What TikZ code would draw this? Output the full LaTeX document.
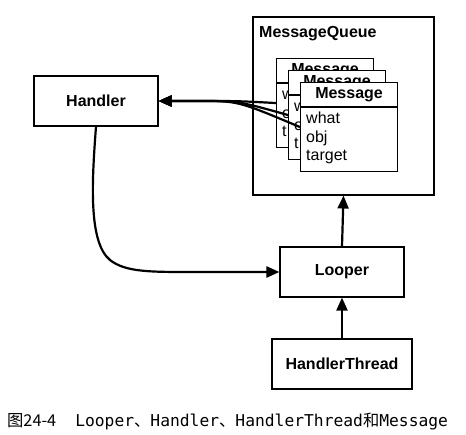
\documentclass[tikz,border=0pt]{standalone}
\usepackage{fontspec}
\setmainfont{Liberation Sans}
\newfontfamily\cjkfont{Noto Sans CJK SC}
\newfontfamily\monofont{DejaVu Sans Mono}
\usetikzlibrary{arrows.meta}
\begin{document}
\begin{tikzpicture}[x=1pt,y=-1pt,
  box/.style={draw,line width=1.1pt,fill=white,inner sep=0pt},
  titletext/.style={font=\fontsize{16}{19}\selectfont\bfseries},
  fieldtext/.style={font=\fontsize{16}{19}\selectfont,anchor=base west,inner sep=0pt},
  conn/.style={line width=2.2pt,-{Triangle[length=13pt,width=11pt]}},
]
\useasboundingbox[fill=white] (0,0) rectangle (466,435);

% MessageQueue container
\node[box,minimum width=181pt,minimum height=178pt] (mq) at (343.5,106) {};
\node[titletext,anchor=west,inner sep=0pt] (mqt) at (259,34) {MessageQueue};

% stacked Message boxes (the back ones show only their visible letters)
\foreach \i/\x/\y/\fa/\fb/\fc in {1/276/58/w/o/t,2/288/70/w/o/t,3/300/82/what/obj/target}{
  \node[box,minimum width=97pt,minimum height=89pt,anchor=north west] (m\i) at (\x,\y) {};
  \draw[line width=1.1pt] ([yshift=-25pt]m\i.north west) -- ([yshift=-25pt]m\i.north east);
  \node[titletext,inner sep=0pt] (m\i t) at ([yshift=-13pt]m\i.north) {Message};
  \node[fieldtext] (m\i a) at ([xshift=6pt,yshift=-42pt]m\i.north west) {\fa};
  \node[fieldtext] (m\i b) at ([xshift=6pt,yshift=-60.5pt]m\i.north west) {\fb};
  \node[fieldtext] (m\i c) at ([xshift=6pt,yshift=-79pt]m\i.north west) {\fc};
}

% other boxes
\node[box,titletext,minimum width=124pt,minimum height=50pt] (h) at (96,101) {Handler};
\node[box,titletext,minimum width=124pt,minimum height=50pt] (lp) at (342,272) {Looper};
\node[box,titletext,minimum width=140pt,minimum height=50pt] (ht) at (342,364) {HandlerThread};

% connectors
\foreach \i in {1,2,3}
  \draw[conn] (m\i.west) .. controls (238,101) .. (200,101) -- (h.east);
\draw[conn] (h.south) .. controls (92,180) and (88,242) .. (110,260)
  .. controls (125,272) and (150,272) .. (190,272) -- (lp.west);
\draw[conn] (lp.north) -- (mq.south);
\draw[conn] (ht.north) -- (lp.south);

% caption
\node[anchor=base west,inner sep=0pt,font=\fontsize{16.3}{19}\selectfont] (cap) at (7,427)
  {{\cjkfont 图24-4}\hspace{19pt}{\monofont Looper}{\cjkfont 、}{\monofont Handler}{\cjkfont 、}{\monofont HandlerThread}{\cjkfont 和}{\monofont Message}};
\end{tikzpicture}
\end{document}
